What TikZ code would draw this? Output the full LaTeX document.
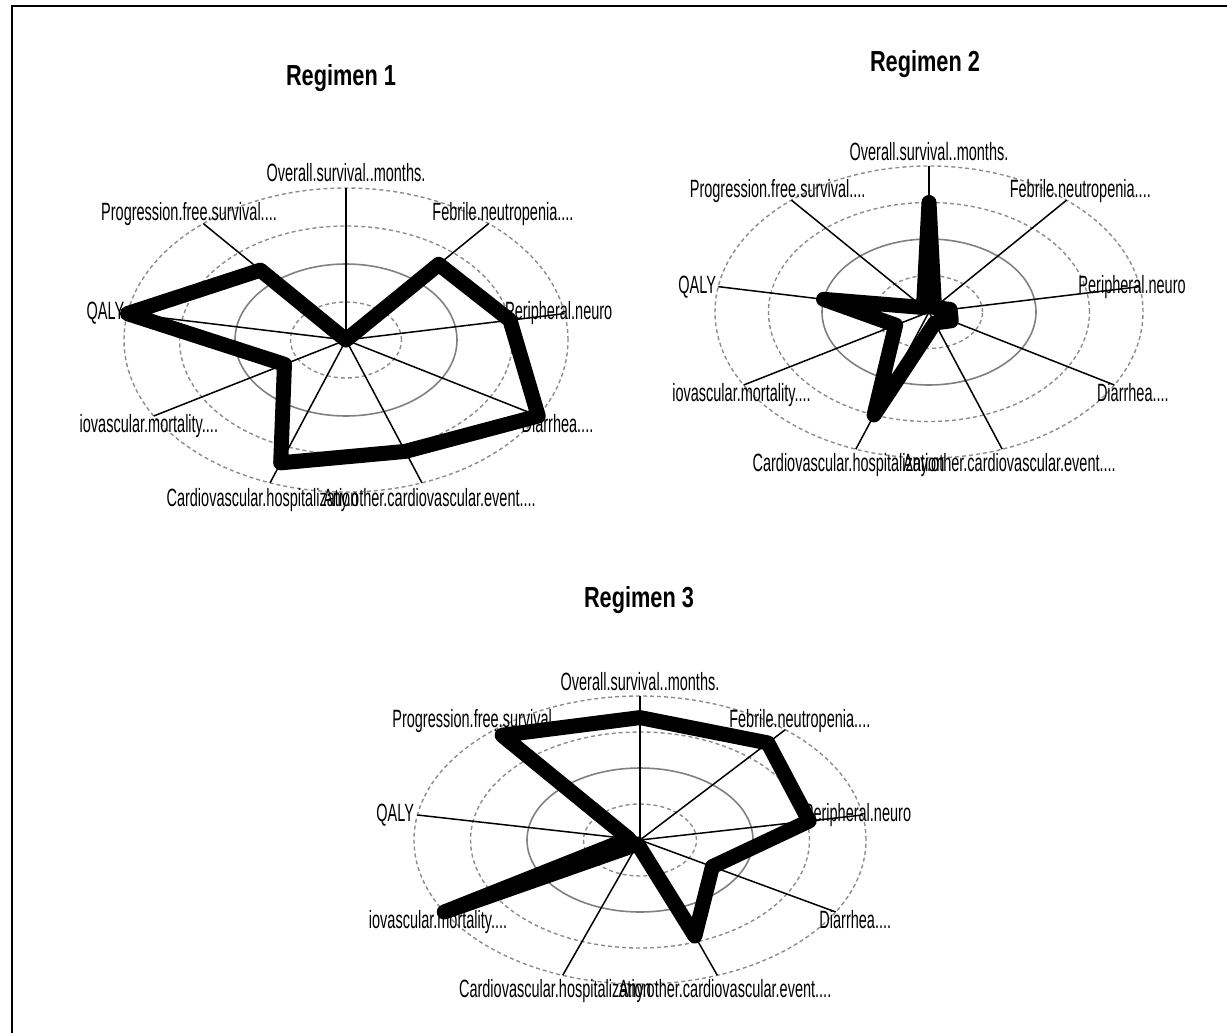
\documentclass[tikz,border=0pt]{standalone}
\usepackage{fontspec}
\setmainfont{Liberation Sans}
\tikzset{
  ringdash/.style={draw=black!45, line width=1.4pt, dash pattern=on 4pt off 3pt},
  ringsolid/.style={draw=black!50, line width=1.6pt},
  spoke/.style={black, line width=1.5pt},
  radar/.style={black, line width=15pt, line join=round},
  lbl/.style={inner sep=0pt, font=\fontsize{25}{25}\selectfont, xscale=0.58, text height=18pt, text depth=0pt},
  ttl/.style={inner sep=0pt, font=\bfseries\fontsize{29}{29}\selectfont, xscale=0.75, text height=21pt, text depth=0pt}
}
\begin{document}
\begin{tikzpicture}[x=1pt, y=-1pt]
  \useasboundingbox (0,0) rectangle (1227,1033);
  \draw[line width=2.5pt] (12,1033) -- (12,6) -- (1227,6);

  \node[ttl] (t1) at (341,75) {Regimen 1};
  \node[ttl] (t2) at (925,61) {Regimen 2};
  \node[ttl] (t3) at (639,597) {Regimen 3};

  % rings, spokes and axis labels of the three charts
  \foreach \cx/\cy/\rx/\ry/\k in {346/340/222/152/1, 929/312/214/146/2, 640/840/226/144/3}{
    \begin{scope}[shift={(\cx,\cy)}, x=\rx pt, y=\ry pt]
      \foreach \r in {0.25,0.75,1}{
        \draw[ringdash] (0,0) circle [radius=\r];
      }
      \draw[ringsolid] (0,0) circle [radius=0.5];
      \foreach \a in {90,50,10,-30,-70,-110,-150,170,130}{
        \draw[spoke] (0,0) -- (\a:1);
      }
      \node[lbl] (ov\k) at (90:1.1) {Overall.survival..months.};
      \node[lbl] (fn\k) at (50:1.1) {Febrile.neutropenia....};
      \node[lbl] (pf\k) at (130:1.1) {Progression.free.survival....};
      \node[lbl] (qa\k) at (170:1.1) {QALY};
      \node[lbl] (di\k) at (-30:1.1) {Diarrhea....};
      \node[lbl] (ch\k) at (250:1.1) {Cardiovascular.hospitalization};
      \node[lbl] (ao\k) at (290:1.1) {Any.other.cardiovascular.event....};
      \node[lbl, anchor=west] (cm\k) at (-1.2,-0.55) {iovascular.mortality....};
      \node[lbl, anchor=east] (pn\k) at (1.2,0.191) {Peripheral.neuro};
    \end{scope}
  }

  % the regimen profiles
  \draw[radar, shift={(346,340)}, x=222pt, y=152pt]
    (90:0) -- (50:0.65) -- (10:0.75) -- (-30:1) -- (-70:0.78) -- (-110:0.86)
    -- (-150:0.32) -- (170:1) -- (130:0.6) -- cycle;
  \draw[radar, shift={(929,312)}, x=214pt, y=146pt]
    (90:0.75) -- (50:0.04) -- (10:0.1) -- (-30:0.12) -- (-70:0.08) -- (-110:0.75)
    -- (-150:0.18) -- (170:0.5) -- (130:0.04) -- cycle;
  \draw[radar, shift={(640,840)}, x=226pt, y=144pt]
    (90:0.85) -- (50:0.88) -- (10:0.76) -- (-30:0.37) -- (-70:0.71) -- (-110:0.03)
    -- (-150:1) -- (170:0.05) -- (130:0.95) -- cycle;
\end{tikzpicture}
\end{document}
